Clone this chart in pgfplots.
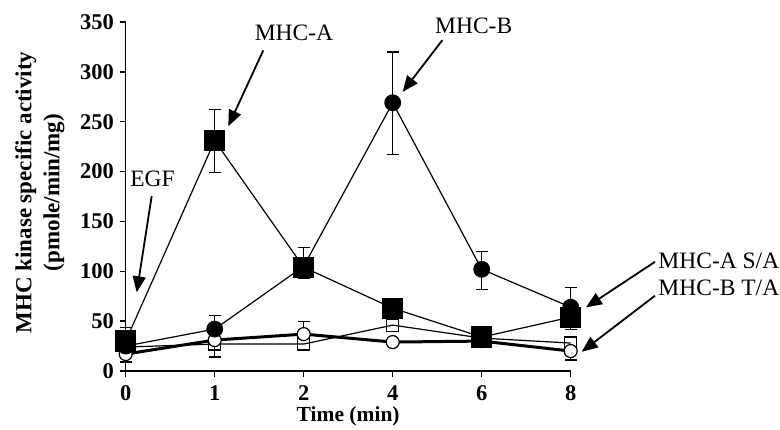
\documentclass[border=0pt]{standalone}
\usepackage{fontspec}
\setmainfont{Liberation Serif}
\usepackage{pgfplots}
\pgfplotsset{compat=1.18}
\usetikzlibrary{arrows.meta}
\begin{document}
\begin{tikzpicture}
\begin{axis}[
  scale only axis, width=445pt, height=349pt,
  xmin=0, xmax=5, ymin=0, ymax=350,
  axis x line*=bottom, axis y line*=left,
  axis line style={line width=1.5pt, -},
  xtick={0,1,2,3,4,5}, xticklabels={0,1,2,4,6,8},
  ytick={0,50,...,350},
  tick align=outside, major tick length=6pt,
  tick style={line width=1.3pt, black},
  /pgf/number format/assume math mode=true,
  ticklabel style={font=\fontsize{22.5}{22.5}\selectfont\bfseries},
  yticklabel style={anchor=east, inner xsep=0pt, xshift=-5.5pt},
  xticklabel style={anchor=north, inner ysep=0pt, yshift=-8pt},
  xlabel={Time (min)},
  xlabel style={font=\fontsize{21.5}{22}\selectfont\bfseries,
    at={(axis description cs:0.5,-0.1433)}, anchor=base},
  ylabel={MHC kinase specific activity\\(pmole/min/mg)},
  ylabel style={font=\fontsize{23}{28}\selectfont\bfseries, align=center,
    at={(axis description cs:-0.2562,0.5115)}, anchor=north},
  clip=false,
]
% error bars
\addplot[draw=none, mark=none, forget plot,
  error bars/.cd, y dir=both, y explicit,
  error bar style={draw=black, line width=1.2pt},
  error mark options={draw=black, line width=1.2pt, mark size=6pt, rotate=90}]
  coordinates {
  (0,29) += (0,15) -= (0,0)
  (1,231) += (0,31) -= (0,32)
  (2,104) += (0,20) -= (0,11)
  (5,54) += (0,0) -= (0,12)
  (1,42) += (0,14) -= (0,0)
  (3,269) += (0,51) -= (0,52)
  (4,102) += (0,18) -= (0,20)
  (5,63) += (0,21) -= (0,0)
  (0,17) += (0,0) -= (0,8)
  (1,31) += (0,0) -= (0,17)
  (2,37) += (0,13) -= (0,0)
  (5,20) += (0,0) -= (0,9)
  };
% open squares (MHC-A S/A)
\addplot[black, line width=1.2pt, mark=square, mark size=6pt,
  mark options={fill=white, line width=1.2pt}]
  coordinates {(0,24) (1,27) (2,27) (3,46) (4,33) (5,28)};
% open circles (MHC-B T/A)
\addplot[black, line width=3pt, mark=*, mark size=6.5pt,
  mark options={fill=white, line width=1.2pt}]
  coordinates {(0,17) (1,31) (2,37) (3,29) (4,30) (5,20)};
% filled circles (MHC-B)
\addplot[black, line width=1.2pt, mark=*, mark size=7.8pt,
  mark options={fill=black}]
  coordinates {(0,25) (1,42) (2,105) (3,269) (4,102) (5,64)};
% filled squares (MHC-A)
\addplot[black, line width=1.2pt, mark=square*, mark size=10pt,
  mark options={fill=black}]
  coordinates {(0,30) (1,231) (2,104) (3,63) (4,34) (5,54)};
% annotations
\tikzset{ann/.style={font=\fontsize{23.5}{24}\selectfont}, arr/.style={line width=1.8pt, -{Triangle[length=16pt,width=13pt]}}}
\node[ann] at (axis cs:1.891,339) {MHC-A};
\draw[arr] (axis cs:1.546,321.6) -- (axis cs:1.153,245.5);
\node[ann] at (axis cs:3.910,346) {MHC-B};
\draw[arr] (axis cs:3.557,331.7) -- (axis cs:3.112,279.9);
\node[ann] at (axis cs:0.301,193.1) {EGF};
\draw[arr] (axis cs:0.292,175.4) -- (axis cs:0.124,78.9);
\node[ann, anchor=west, inner sep=0pt] at (axis cs:5.984,110.4) {MHC-A S/A};
\draw[arr] (axis cs:5.947,109.5) -- (axis cs:5.172,63.8);
\node[ann, anchor=west, inner sep=0pt] at (axis cs:5.984,82.9) {MHC-B T/A};
\draw[arr] (axis cs:5.947,75.5) -- (axis cs:5.124,19.3);
\end{axis}
\pgfresetboundingbox
\useasboundingbox (-125.7pt,-59pt) rectangle (654.3pt,371pt);
\end{tikzpicture}
\end{document}
